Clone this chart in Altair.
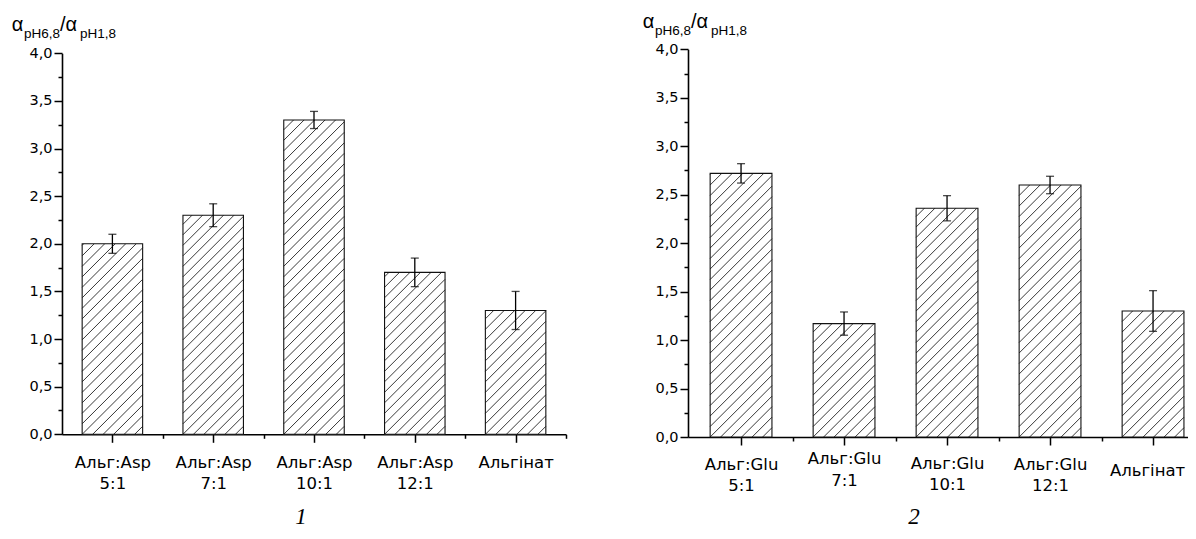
import json
import altair as alt
import pandas as pd

# ---------------- data ----------------
cats_left = ["Альг:Asp\n5:1", "Альг:Asp\n7:1", "Альг:Asp\n10:1", "Альг:Asp\n12:1", "Альгінат"]
vals_left = [2.00, 2.30, 3.30, 1.70, 1.30]
errs_left = [0.10, 0.12, 0.09, 0.15, 0.20]

cats_right = ["Альг:Glu\n5:1", "Альг:Glu\n7:1", "Альг:Glu\n10:1", "Альг:Glu\n12:1", "Альгінат"]
vals_right = [2.72, 1.17, 2.36, 2.60, 1.30]
errs_right = [0.10, 0.12, 0.13, 0.09, 0.21]

y_major = [0.0, 0.5, 1.0, 1.5, 2.0, 2.5, 3.0, 3.5, 4.0]
y_minor = [0.25, 0.75, 1.25, 1.75, 2.25, 2.75, 3.25, 3.75]
panel_marks = ["1", "2"]

W_TOTAL, H_TOTAL = 1180, 521
FONT = "DejaVu Sans"


def cond(values, default):
    if values is None:
        return default
    return {
        "condition": [
            {"test": f"datum.value === {i + 1}", "value": v} for i, v in enumerate(values)
        ],
        "value": default,
    }


def panel(cats, vals, errs, x0, x1, dom, yb, yt, pads, default_pad, offs):
    n = len(cats)
    df = pd.DataFrame({"pos": list(range(1, n + 1)), "value": vals, "err": errs})
    kx = (x1 - x0) / (dom[1] - dom[0])
    ky = (yb - yt) / 4.0
    xs = alt.Scale(domain=dom, range=[x0, x1], nice=False, zero=False)
    ys = alt.Scale(domain=[0, 4], range=[yb, yt], nice=False, zero=False)

    base = alt.Chart(df).transform_calculate(
        lo="datum.pos - 0.3"
    ).transform_calculate(
        hi="datum.pos + 0.3"
    ).transform_calculate(
        elo="datum.value - datum.err"
    ).transform_calculate(
        ehi="datum.value + datum.err"
    )

    fill = base.mark_rect(fill="white", strokeWidth=0).encode(
        x=alt.X("lo:Q", scale=xs, axis=None),
        x2="hi:Q",
        y=alt.Y("value:Q", scale=ys, axis=None),
        y2=alt.datum(0),
    )

    sp = 10.5
    hatch = base.transform_calculate(
        H=f"datum.value * {ky}"
    ).transform_calculate(
        W=f"{0.6 * kx}"
    ).transform_calculate(
        k=f"sequence(-floor(datum.H / {sp}), ceil(datum.W / {sp}))"
    ).transform_flatten(["k"]).transform_calculate(
        d=f"datum.k * {sp}"
    ).transform_calculate(
        px0="max(0, datum.d)"
    ).transform_calculate(
        px1="min(datum.W, datum.d + datum.H)"
    ).transform_filter("datum.px1 > datum.px0 + 0.5").transform_calculate(
        hx0=f"datum.lo + datum.px0 / {kx}"
    ).transform_calculate(
        hy0=f"(datum.px0 - datum.d) / {ky}"
    ).transform_calculate(
        hx1=f"datum.lo + datum.px1 / {kx}"
    ).transform_calculate(
        hy1=f"(datum.px1 - datum.d) / {ky}"
    ).mark_rule(color="#222222", strokeWidth=0.9).encode(
        x=alt.X("hx0:Q", scale=xs, axis=None),
        x2="hx1:Q",
        y=alt.Y("hy0:Q", scale=ys, axis=None),
        y2="hy1:Q",
    )

    outline = base.mark_rect(fillOpacity=0, stroke="#111111", strokeWidth=1.1).encode(
        x=alt.X("lo:Q", scale=xs, axis=None),
        x2="hi:Q",
        y=alt.Y("value:Q", scale=ys, axis=None),
        y2=alt.datum(0),
    )

    ebar = base.mark_rule(color="black", strokeWidth=1.3).encode(
        x=alt.X("pos:Q", scale=xs, axis=None),
        y=alt.Y("elo:Q", scale=ys, axis=None),
        y2="ehi:Q",
    )
    cap_hi = base.mark_tick(orient="horizontal", size=8, thickness=1.3, color="black").encode(
        x=alt.X("pos:Q", scale=xs, axis=None),
        y=alt.Y("ehi:Q", scale=ys, axis=None),
    )
    cap_lo = base.mark_tick(orient="horizontal", size=8, thickness=1.3, color="black").encode(
        x=alt.X("pos:Q", scale=xs, axis=None),
        y=alt.Y("elo:Q", scale=ys, axis=None),
    )

    marks = alt.layer(fill, hatch, outline, ebar, cap_hi, cap_lo)

    label_lists = json.dumps([c.split("\n") for c in cats], ensure_ascii=False)

    x_major_axis = alt.Axis(
        orient="bottom", offset=yb - H_TOTAL, values=list(range(1, n + 1)),
        tickSize=8, tickWidth=1.5, tickColor="black",
        domainColor="black", domainWidth=1.6,
        labelExpr=f"{label_lists}[datum.value - 1]",
        labelFont=FONT, labelFontSize=16.5, labelLineHeight=21.5,
        labelColor="black", labelPadding=cond(pads, default_pad),
        labelOffset=cond(offs, 0),
        labelOverlap=False, labelFlush=False,
        grid=False, title=None,
    )
    y_major_axis = alt.Axis(
        orient="left", offset=-x0, values=y_major,
        tickSize=8, tickWidth=1.5, tickColor="black",
        domainColor="black", domainWidth=1.6,
        labelExpr="replace(format(datum.value, '.1f'), '.', ',')",
        labelFont=FONT, labelFontSize=14.5, labelPadding=2, labelColor="black",
        labelOverlap=False, labelFlush=False, grid=False, title=None,
    )
    axes_major = alt.Chart(df).mark_point(opacity=0).encode(
        x=alt.X("pos:Q", scale=xs, axis=x_major_axis),
        y=alt.Y("value:Q", scale=ys, axis=y_major_axis),
    )

    minor_x_vals = [v + 0.5 for v in range(1, n + 1) if v + 0.5 <= dom[1]]
    x_minor_axis = alt.Axis(
        orient="bottom", offset=yb - H_TOTAL, values=minor_x_vals,
        tickSize=4, tickWidth=1.5, tickColor="black",
        domain=False, labels=False, grid=False, title=None,
    )
    y_minor_axis = alt.Axis(
        orient="left", offset=-x0, values=y_minor,
        tickSize=4, tickWidth=1.5, tickColor="black",
        domain=False, labels=False, grid=False, title=None,
    )
    axes_minor = alt.Chart(df).mark_point(opacity=0).encode(
        x=alt.X("pos:Q", scale=xs, axis=x_minor_axis),
        y=alt.Y("value:Q", scale=ys, axis=y_minor_axis),
    )
    return [marks, axes_major, axes_minor]


one = pd.DataFrame({"k": [0]})


def txt(s, x, y, size, font="Liberation Sans", style="normal", align="left"):
    return alt.Chart(one).mark_text(
        text=s, font=font, fontSize=size, fontStyle=style, align=align,
        baseline="alphabetic", color="black",
    ).encode(x=alt.value(x), y=alt.value(y))


def ytitle(x, y):
    # α_{pH6,8} / α_{pH1,8}
    return [
        txt("α", x, y, 20),
        txt("pH6,8", x + 12.3, y + 6.7, 13.5),
        txt("/α", x + 48.3, y, 20),
        txt("pH1,8", x + 68.3, y + 6.7, 13.5),
    ]


left = panel(cats_left, vals_left, errs_left, 54, 558, [0.5, 5.5], 426.3, 45.3,
             None, 12, None)
right = panel(cats_right, vals_right, errs_right, 680, 1180, [0.485, 0.485 + 500 / 103],
              429.0, 41.3, [11, 5.5, 10, 11, 17.6], 11, [0, 0, 0, 0, -6])

texts = ytitle(3.7, 23) + ytitle(634.7, 20.3) + [
    txt(panel_marks[0], 293, 516, 23, font="Liberation Serif", style="italic", align="center"),
    txt(panel_marks[1], 906, 516, 23, font="Liberation Serif", style="italic", align="center"),
]

chart = alt.layer(*left, *right, *texts).resolve_scale(
    x="independent", y="independent"
).resolve_axis(
    x="independent", y="independent"
).properties(
    width=W_TOTAL, height=H_TOTAL, padding=0,
    autosize=alt.AutoSizeParams(type="fit", contains="padding"),
    background="white",
).configure_view(stroke=None)

chart.save("out.html", embed_options={"renderer": "svg", "actions": False})
